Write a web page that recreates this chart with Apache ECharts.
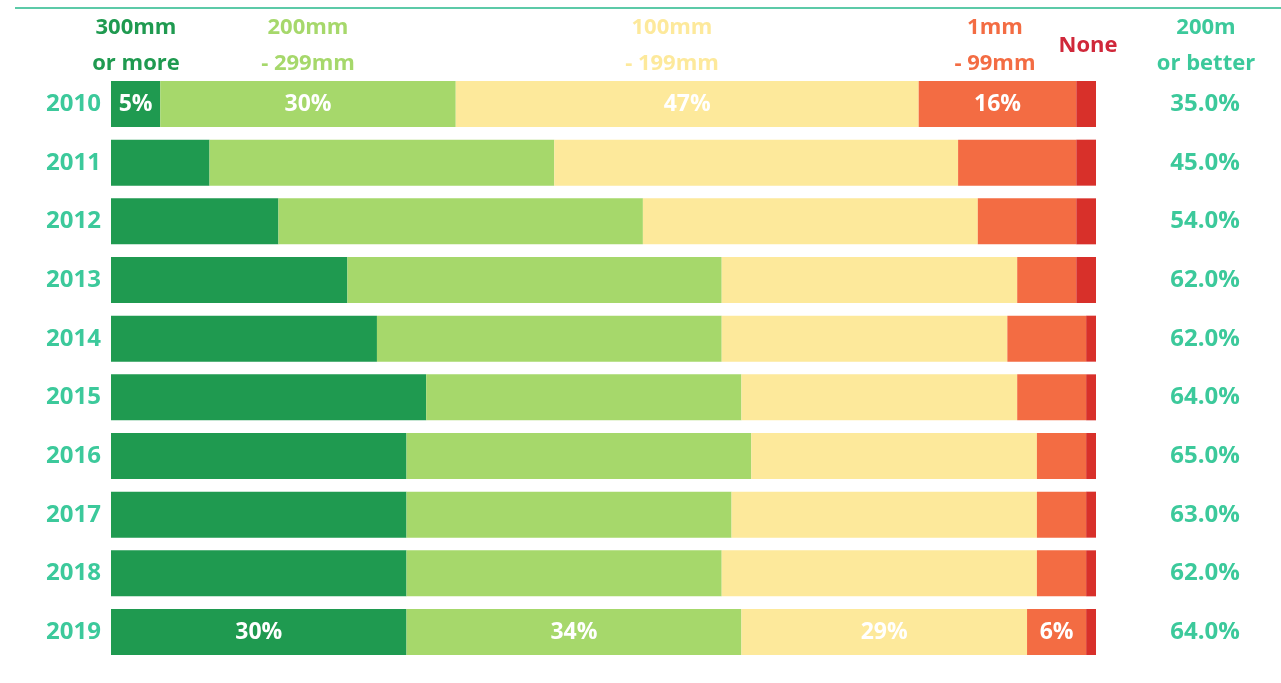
<!DOCTYPE html>
<html><head><meta charset="utf-8">
<script src="https://cdn.jsdelivr.net/npm/echarts@6/dist/echarts.min.js"></script>
<style>html,body{margin:0;padding:0;background:#fff;}#c{width:1281px;height:683px;}</style>
</head><body><div id="c"></div>
<script>
const years = ['2010','2011','2012','2013','2014','2015','2016','2017','2018','2019'];
const s300 = [5,10,17,24,27,32,30,30,30,30];
const s200 = [30,35,37,38,35,32,35,33,32,34];
const s100 = [47,41,34,30,29,28,29,31,32,29];
const s1   = [16,12,10,6,8,7,5,5,5,6];
const sNone= [2,2,2,2,1,1,1,1,1,1];
const better = ['35.0%','45.0%','54.0%','62.0%','62.0%','64.0%','65.0%','63.0%','62.0%','64.0%'];
const labelRows = [0,9];
const seriesNames = ['300mm or more','200mm - 299mm','100mm - 199mm','1mm - 99mm','None'];
const colors = ['#1f9a50','#a6d86b','#fde99b','#f36c43','#d8302a'];
const FONT = '"Open Sans"';
const teal = '#3cc99b';

function mk(name, vals, color, showLabels){
  return {
    name, type:'bar', stack:'t', barWidth:46,
    itemStyle:{color},
    data: vals.map((v,i)=>({
      value:v,
      label:{show: showLabels && labelRows.includes(i)}
    })),
    label:{show:false, position:'inside', color:'#fff', fontFamily:FONT, fontWeight:'bold', fontSize:23, formatter:'{c}%'}
  };
}
const chart = echarts.init(document.getElementById('c'));
chart.setOption({
  animation:false,
  grid:{left:111, right:185, top:74.67, bottom:21.67},
  xAxis:{type:'value', min:0, max:100, show:false},
  yAxis:[
    {type:'category', data:years, inverse:true, axisLine:{show:false}, axisTick:{show:false},
     axisLabel:{color:teal, fontFamily:FONT, fontWeight:'bold', fontSize:24, margin:10}},
    {type:'category', data:years, inverse:true, position:'right', axisLine:{show:false}, axisTick:{show:false},
     axisLabel:{color:teal, fontFamily:FONT, fontWeight:'bold', fontSize:24, margin:109, align:'center',
       formatter:(v,i)=>better[i]}}
  ],
  series:[
    mk(seriesNames[0], s300, colors[0], true),
    mk(seriesNames[1], s200, colors[1], true),
    mk(seriesNames[2], s100, colors[2], true),
    mk(seriesNames[3], s1, colors[3], true),
    mk(seriesNames[4], sNone, colors[4], false)
  ],
  graphic:[
    {type:'line', shape:{x1:15,y1:8,x2:1281,y2:8}, style:{stroke:'#5ccaa8', lineWidth:2}},
    {type:'text', x:136, y:46, style:{text:'300mm\nor more', fill:'#1f9a50', font:'bold 22px '+FONT, align:'center', verticalAlign:'middle', lineHeight:36}},
    {type:'text', x:308, y:46, style:{text:'200mm\n- 299mm', fill:'#a6d86b', font:'bold 22px '+FONT, align:'center', verticalAlign:'middle', lineHeight:36}},
    {type:'text', x:672, y:46, style:{text:'100mm\n- 199mm', fill:'#fde99b', font:'bold 22px '+FONT, align:'center', verticalAlign:'middle', lineHeight:36}},
    {type:'text', x:995, y:46, style:{text:'1mm\n- 99mm', fill:'#f36c43', font:'bold 22px '+FONT, align:'center', verticalAlign:'middle', lineHeight:36}},
    {type:'text', x:1088, y:46, style:{text:'None', fill:'#d0283a', font:'bold 22px '+FONT, align:'center', verticalAlign:'middle'}},
    {type:'text', x:1206, y:46, style:{text:'200m\nor better', fill:teal, font:'bold 22px '+FONT, align:'center', verticalAlign:'middle', lineHeight:36}}
  ]
});
</script></body></html>
